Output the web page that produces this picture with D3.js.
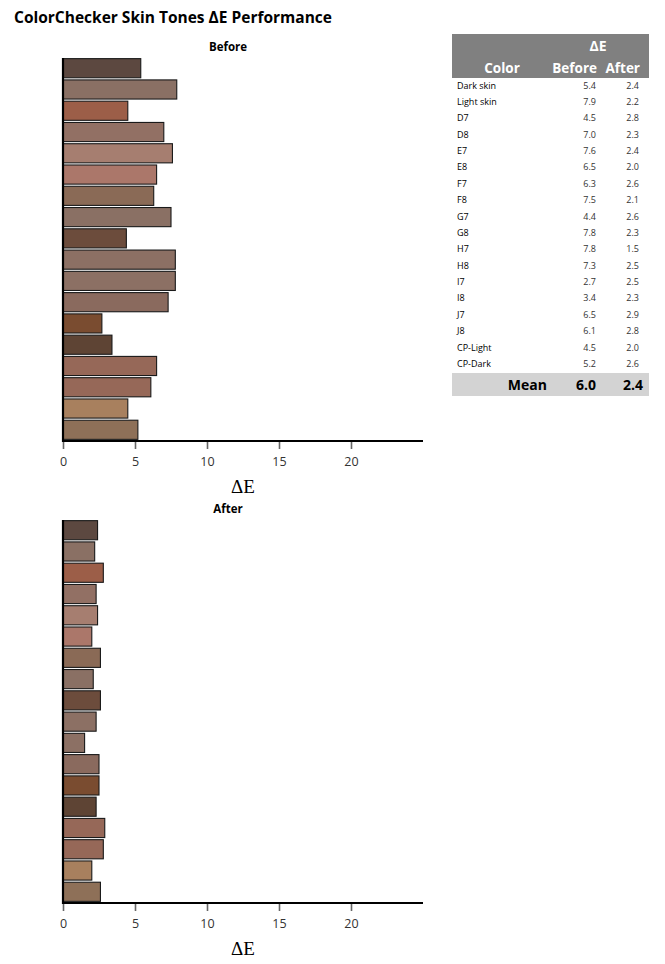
<!DOCTYPE html>
<html><head><meta charset="utf-8">
<script src="https://cdn.jsdelivr.net/npm/d3@7"></script>
<style>
body{margin:0;background:#fff;}
</style></head>
<body><svg id="c" width="665" height="964" style="font-family:'Open Sans','Noto Sans',sans-serif"></svg>
<script>
const categories = ["Dark skin","Light skin","D7","D8","E7","E8","F7","F8","G7","G8","H7","H8","I7","I8","J7","J8","CP-Light","CP-Dark"];
const beforeValues = [5.4,7.9,4.5,7.0,7.6,6.5,6.3,7.5,4.4,7.8,7.8,7.3,2.7,3.4,6.5,6.1,4.5,5.2];
const afterValues  = [2.4,2.2,2.8,2.3,2.4,2.0,2.6,2.1,2.6,2.3,1.5,2.5,2.5,2.3,2.9,2.8,2.0,2.6];
const swatchColors = ["#5c4840","#8a7064","#9c5e48","#927064","#a67e70","#ab776a","#8a6a56","#8a7064","#6c4c3c","#8c7064","#8c7064","#8a6a5e","#7a4c30","#5e4434","#966858","#966858","#a8805e","#8e7058"];
const tickValues = [0,5,10,15,20];
const meanBefore = "6.0", meanAfter = "2.4";

const SANS = "'Open Sans','Noto Sans',sans-serif";
const svg = d3.select("#c");
svg.append("text").attr("x",14).attr("y",23).attr("font-size",15.5).attr("font-weight","bold").attr("fill","#000")
  .text("ColorChecker Skin Tones ΔE Performance");

const x = d3.scaleLinear().domain([0,25]).range([63,423]);

function panel(title, values, top, bottom, titleY){
  const g = svg.append("g");
  g.append("text").attr("x",228).attr("y",titleY).attr("text-anchor","middle").attr("font-size",11.5).attr("font-weight","bold").text(title);
  const y = d3.scaleBand().domain(categories).range([top,bottom]).paddingInner(0.1).paddingOuter(0.03);
  g.selectAll("rect.bar").data(categories).join("rect").attr("class","bar")
    .attr("x",x(0)).attr("y",d=>y(d)).attr("height",y.bandwidth())
    .attr("width",(d,i)=>x(values[i])-x(0))
    .attr("fill",(d,i)=>swatchColors[i]).attr("stroke","#1a1a1a").attr("stroke-width",1.1);
  const ax = g.append("g").attr("transform",`translate(0,${bottom+1})`)
    .call(d3.axisBottom(x).tickValues(tickValues).tickSize(8).tickPadding(8).tickFormat(d3.format("d")));
  ax.attr("font-family",SANS);
  ax.select(".domain").remove();
  ax.selectAll(".tick line").attr("stroke","#666").attr("stroke-width",1.6);
  ax.selectAll(".tick text").attr("font-size",12.5).attr("fill","#333");
  g.append("line").attr("x1",x(0)).attr("x2",x(25)).attr("y1",bottom+1).attr("y2",bottom+1).attr("stroke","#000").attr("stroke-width",2.2);
  g.append("line").attr("x1",x(0)).attr("x2",x(0)).attr("y1",top).attr("y2",bottom+2).attr("stroke","#000").attr("stroke-width",2.2);
  g.append("text").attr("x",(x(0)+x(25))/2).attr("y",bottom+53).attr("text-anchor","middle")
    .style("font-family","'Liberation Serif','DejaVu Serif',serif").attr("font-size",19).text("ΔE");
}
panel("Before", beforeValues, 58, 440, 51);
panel("After", afterValues, 520, 902, 513);

// table
const t = svg.append("g");
const tx0 = 452, tx1 = 649;
t.append("rect").attr("x",tx0).attr("y",34).attr("width",tx1-tx0).attr("height",44).attr("fill","#808080");
t.append("text").attr("x",598).attr("y",51).attr("text-anchor","middle").attr("fill","#fff").attr("font-weight","bold").attr("font-size",14).text("ΔE");
t.append("text").attr("x",502).attr("y",73).attr("text-anchor","middle").attr("fill","#fff").attr("font-weight","bold").attr("font-size",13.5).text("Color");
t.append("text").attr("x",597).attr("y",73).attr("text-anchor","end").attr("fill","#fff").attr("font-weight","bold").attr("font-size",13.5).text("Before");
t.append("text").attr("x",640).attr("y",73).attr("text-anchor","end").attr("fill","#fff").attr("font-weight","bold").attr("font-size",13.5).text("After");
const ry = d3.scalePoint().domain(categories).range([88.5,367]);
const rows = t.selectAll("g.row").data(categories).join("g").attr("class","row");
rows.append("text").attr("x",457).attr("y",d=>ry(d)).attr("font-size",9).attr("fill","#000").text(d=>d);
rows.append("text").attr("x",596).attr("y",d=>ry(d)).attr("text-anchor","end").attr("font-size",9).attr("fill","#333").text((d,i)=>beforeValues[i].toFixed(1));
rows.append("text").attr("x",639).attr("y",d=>ry(d)).attr("text-anchor","end").attr("font-size",9).attr("fill","#333").text((d,i)=>afterValues[i].toFixed(1));
t.append("rect").attr("x",tx0).attr("y",373).attr("width",tx1-tx0).attr("height",23).attr("fill","#d3d3d3");
t.append("text").attr("x",547).attr("y",390).attr("text-anchor","end").attr("font-weight","bold").attr("font-size",14).text("Mean");
t.append("text").attr("x",596).attr("y",390).attr("text-anchor","end").attr("font-weight","bold").attr("font-size",14).text(meanBefore);
t.append("text").attr("x",643).attr("y",390).attr("text-anchor","end").attr("font-weight","bold").attr("font-size",14).text(meanAfter);
</script></body></html>
